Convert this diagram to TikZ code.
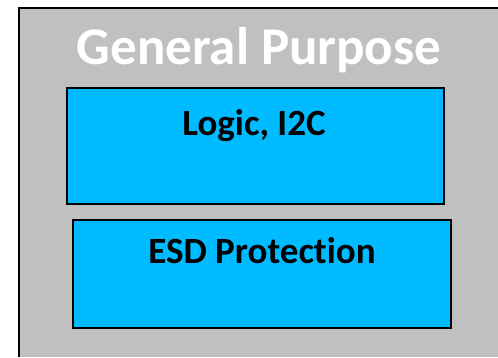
\documentclass[tikz,border=0pt]{standalone}
\usepackage{fontspec}
\setmainfont{Carlito}[Ligatures=NoCommon]
\definecolor{boxgray}{RGB}{192,192,192}
\definecolor{boxblue}{RGB}{0,187,255}
\tikzset{
  outerline/.style={draw=black, line width=2pt},
  inner/.style={draw=black, line width=2pt, fill=boxblue},
  boxtext/.style={font=\bfseries\fontsize{37}{40}\selectfont},
}
\begin{document}
\begin{tikzpicture}[x=1pt,y=-1pt]
\useasboundingbox (0,0) rectangle (498,357);
\fill[boxgray] (19,8) rectangle (498,357);
\draw[outerline] (19,357) -- (19,8) -- (498,8);
\draw[inner] (67,88) rectangle (444,204);
\draw[inner] (73,220) rectangle (451,328);
\node[text=white, font=\bfseries\fontsize{53}{56}\selectfont] (title) at (259,50) {General Purpose};
\node[boxtext] (logic) at (254,126) {Logic, I2C};
\node[boxtext] (esd) at (262,251) {ESD Protection};
\end{tikzpicture}
\end{document}
